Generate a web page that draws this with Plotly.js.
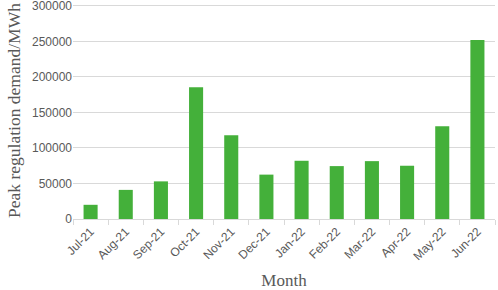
<!DOCTYPE html>
<html>
<head>
<meta charset="utf-8">
<script src="https://cdn.plot.ly/plotly-3.0.1.min.js"></script>
<style>html,body{margin:0;padding:0;background:#fff;}#chart{width:498px;height:290px;}</style>
</head>
<body>
<div id="chart"></div>
<script>
const months = ["Jul-21","Aug-21","Sep-21","Oct-21","Nov-21","Dec-21","Jan-22","Feb-22","Mar-22","Apr-22","May-22","Jun-22"];
const demand = [20000, 41000, 53000, 185500, 118000, 62500, 82000, 74500, 81500, 75000, 130500, 252000];
const yTicks = [0, 50000, 100000, 150000, 200000, 250000, 300000];

Plotly.newPlot('chart', [{
  type: 'bar',
  x: months,
  y: demand,
  marker: {color: '#44B03A'},
  hoverinfo: 'none'
}], {
  width: 498, height: 290,
  margin: {l: 73, r: 3, t: 2, b: 71},
  paper_bgcolor: '#fff', plot_bgcolor: '#fff',
  bargap: 0.6,
  showlegend: false,
  xaxis: {
    type: 'category',
    tickson: 'boundaries',
    ticks: 'outside', ticklen: 5, tickcolor: '#d9d9d9', tickwidth: 1,
    showline: true, linecolor: '#d9d9d9', linewidth: 1,
    showgrid: false,
    tickangle: -45,
    tickfont: {family: 'Liberation Sans, Arial, sans-serif', size: 12, color: '#595959'},
    title: {text: 'Month', font: {family: 'Liberation Serif, Times New Roman, serif', size: 17, color: '#595959'}, standoff: 14}
  },
  yaxis: {
    range: [0, 305600],
    tickvals: yTicks,
    ticktext: yTicks.map(String),
    ticklabeloverflow: 'allow',
    showgrid: true, gridcolor: '#d9d9d9', gridwidth: 1,
    zeroline: false, showline: false, ticks: '',
    tickfont: {family: 'Liberation Sans, Arial, sans-serif', size: 12, color: '#595959'},
    title: {text: 'Peak regulation demand/MWh', font: {family: 'Liberation Serif, Times New Roman, serif', size: 17.5, color: '#595959'}, standoff: 6}
  }
}, {displayModeBar: false, staticPlot: true});
</script>
</body>
</html>
